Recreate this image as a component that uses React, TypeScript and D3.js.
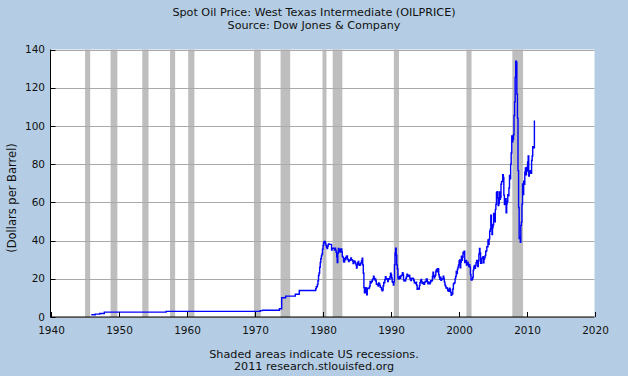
import React from "react";
import * as d3 from "d3";

const W = 628;
const H = 376;

const titleText = "Spot Oil Price: West Texas Intermediate (OILPRICE)";
const subtitleText = "Source: Dow Jones & Company";
const footer1 = "Shaded areas indicate US recessions.";
const footer2 = "2011 research.stlouisfed.org";
const yAxisTitle = "(Dollars per Barrel)";

const yTicks = [0, 20, 40, 60, 80, 100, 120, 140];
const xTickYears = [1940, 1950, 1960, 1970, 1980, 1990, 2000, 2010, 2020];

// NBER recessions (peak month, trough month)
const recessionStarts = ["1945-02", "1948-11", "1953-07", "1957-08", "1960-04", "1969-12", "1973-11", "1980-01", "1981-07", "1990-07", "2001-03", "2007-12"];
const recessionEnds = ["1945-10", "1949-10", "1954-05", "1958-04", "1961-02", "1970-11", "1975-03", "1980-07", "1982-11", "1991-03", "2001-11", "2009-06"];

// Early posted prices: change points (month, price)
const stepDates = ["1946-01", "1946-08", "1947-04", "1947-12", "1957-01", "1970-11", "1971-03", "1973-09", "1974-01", "1974-08", "1976-01", "1976-08"];
const stepPrices = [1.17, 1.52, 1.82, 2.57, 2.97, 3.35, 3.56, 4.31, 10.11, 10.9, 11.9, 13.9];

// Monthly prices from 1979-01 to 2011-03
const monthlyStart = "1979-01";
const prices1979 = [14.85, 15.85, 15.85, 17.0, 19.0, 21.75, 23.0, 26.0, 28.5, 30.5, 32.0, 33.0];
const prices1980 = [35.5, 37.5, 39.0, 39.5, 39.5, 38.5, 37.5, 36.5, 35.8, 37.0, 38.0, 38.2];
const prices1981 = [38.0, 38.0, 38.0, 38.0, 35.0, 36.0, 36.0, 36.0, 36.0, 35.0, 36.0, 35.0];
const prices1982 = [33.85, 31.56, 28.48, 33.45, 35.93, 35.07, 34.16, 33.95, 35.63, 35.68, 34.15, 31.72];
const prices1983 = [31.18, 29.05, 28.82, 30.61, 30.0, 31.0, 31.66, 31.9, 30.32, 29.9, 29.0, 29.55];
const prices1984 = [29.7, 30.05, 30.85, 30.02, 29.8, 29.35, 28.0, 29.3, 29.3, 28.75, 28.2, 27.27];
const prices1985 = [25.63, 27.3, 28.24, 29.13, 27.59, 27.05, 27.22, 27.9, 28.52, 29.44, 30.78, 27.3];
const prices1986 = [22.93, 15.45, 12.62, 12.84, 15.38, 13.43, 11.59, 15.1, 14.87, 14.9, 15.22, 16.11];
const prices1987 = [18.65, 17.75, 18.3, 18.68, 19.44, 20.07, 21.34, 20.31, 19.53, 19.86, 18.85, 17.28];
const prices1988 = [17.13, 16.8, 16.2, 17.86, 17.42, 16.53, 15.5, 15.52, 14.54, 13.77, 14.14, 16.38];
const prices1989 = [18.02, 17.94, 19.48, 21.07, 20.12, 20.05, 19.78, 18.58, 19.59, 20.1, 19.86, 21.1];
const prices1990 = [22.86, 22.11, 20.39, 18.43, 18.2, 16.7, 18.45, 27.31, 33.51, 36.04, 32.33, 27.28];
const prices1991 = [25.23, 20.48, 19.9, 20.83, 21.23, 20.19, 21.4, 21.69, 21.89, 23.23, 22.46, 19.5];
const prices1992 = [18.79, 19.01, 18.92, 20.23, 20.98, 22.39, 21.78, 21.34, 21.88, 21.69, 20.34, 19.41];
const prices1993 = [19.03, 20.09, 20.32, 20.25, 19.95, 19.09, 17.89, 18.01, 17.5, 18.15, 16.61, 14.52];
const prices1994 = [15.03, 14.78, 14.68, 16.42, 17.89, 19.06, 19.66, 18.38, 17.45, 17.72, 18.07, 17.16];
const prices1995 = [18.04, 18.57, 18.54, 19.9, 19.74, 18.45, 17.33, 18.02, 18.23, 17.43, 17.99, 19.03];
const prices1996 = [18.85, 19.09, 21.33, 23.5, 21.17, 20.42, 21.3, 21.9, 23.97, 24.88, 23.71, 25.23];
const prices1997 = [25.13, 22.18, 20.97, 19.7, 20.82, 19.26, 19.66, 19.95, 19.8, 21.33, 20.19, 18.33];
const prices1998 = [16.72, 16.06, 15.12, 15.35, 14.91, 13.72, 14.17, 13.47, 15.03, 14.46, 13.0, 11.35];
const prices1999 = [12.52, 12.01, 14.68, 17.31, 17.72, 17.92, 20.1, 21.28, 23.8, 22.69, 25.0, 26.1];
const prices2000 = [27.26, 29.37, 29.84, 25.72, 28.79, 31.82, 29.7, 31.26, 33.88, 33.11, 34.42, 28.44];
const prices2001 = [29.59, 29.61, 27.25, 27.49, 28.63, 27.6, 26.43, 27.37, 26.2, 22.17, 19.64, 19.39];
const prices2002 = [19.72, 20.72, 24.53, 26.18, 27.04, 25.52, 26.97, 28.39, 29.66, 28.84, 26.35, 29.46];
const prices2003 = [32.95, 35.83, 33.51, 28.17, 28.11, 30.66, 30.76, 31.57, 28.31, 30.34, 31.11, 32.13];
const prices2004 = [34.31, 34.69, 36.74, 36.75, 40.28, 38.03, 40.78, 44.9, 45.94, 53.28, 48.47, 43.15];
const prices2005 = [46.84, 48.15, 54.19, 52.98, 49.83, 56.35, 59.0, 64.99, 65.59, 62.26, 58.32, 59.41];
const prices2006 = [65.49, 61.63, 62.69, 69.44, 70.84, 70.95, 74.41, 73.04, 63.8, 58.89, 59.08, 61.96];
const prices2007 = [54.51, 59.28, 60.44, 63.98, 63.45, 67.49, 74.12, 72.36, 79.92, 85.8, 94.77, 91.69];
const prices2008 = [92.97, 95.39, 105.45, 112.58, 125.4, 133.88, 133.37, 116.67, 104.11, 76.61, 57.31, 41.12];
const prices2009 = [41.71, 39.09, 47.94, 49.65, 59.03, 69.64, 64.15, 71.05, 69.41, 75.72, 77.99, 74.47];
const prices2010 = [78.33, 76.39, 81.2, 84.29, 73.74, 75.34, 76.32, 76.6, 75.24, 81.89, 84.25, 89.15];
const prices2011 = [89.17, 88.58, 102.86];

const monthlyPrices = [
  ...prices1979, ...prices1980, ...prices1981, ...prices1982, ...prices1983, ...prices1984,
  ...prices1985, ...prices1986, ...prices1987, ...prices1988, ...prices1989, ...prices1990,
  ...prices1991, ...prices1992, ...prices1993, ...prices1994, ...prices1995, ...prices1996,
  ...prices1997, ...prices1998, ...prices1999, ...prices2000, ...prices2001, ...prices2002,
  ...prices2003, ...prices2004, ...prices2005, ...prices2006, ...prices2007, ...prices2008,
  ...prices2009, ...prices2010, ...prices2011,
];

const parseMonth = d3.timeParse("%Y-%m");

export default function App() {
  const left = 50.5;
  const right = 594.5;
  const top = 49.5;
  const bottom = 317;

  const x = d3
    .scaleTime()
    .domain([new Date(1940, 0, 1), new Date(2020, 0, 1)])
    .range([left, right]);
  const y = d3.scaleLinear().domain([0, 140]).range([bottom, top]);

  const startDate = parseMonth(monthlyStart) as Date;
  const points: { date: Date; value: number }[] = [];
  stepDates.forEach((d, i) => points.push({ date: parseMonth(d) as Date, value: stepPrices[i] }));
  monthlyPrices.forEach((v, i) => points.push({ date: d3.timeMonth.offset(startDate, i), value: v }));

  const line = d3
    .line<{ date: Date; value: number }>()
    .x((d) => x(d.date))
    .y((d) => y(d.value))
    .curve(d3.curveStepAfter);

  const font = "'DejaVu Sans', Verdana, sans-serif";
  const textColor = "#111";

  return (
    <svg
      width={W}
      height={H}
      style={{ position: "absolute", left: 0, top: 0, display: "block" }}
      fontFamily={font}
    >
      <rect x={0} y={0} width={W} height={H} fill="#B4CDE4" />
      <rect x={left} y={top} width={right - left} height={bottom - top} fill="#FFFFFF" />

      {recessionStarts.map((s, i) => {
        const x0 = x(parseMonth(s) as Date);
        const x1 = x(d3.timeMonth.offset(parseMonth(recessionEnds[i]) as Date, 1));
        return (
          <rect key={s} x={x0} y={top} width={x1 - x0} height={bottom - top} fill="#BEBEBE" />
        );
      })}

      {yTicks.map((t) => (
        <line
          key={"g" + t}
          x1={left}
          x2={right}
          y1={Math.round(y(t)) + 0.5}
          y2={Math.round(y(t)) + 0.5}
          stroke="#AAAAAA"
          strokeWidth={1}
        />
      ))}

      <path d={line(points) || ""} fill="none" stroke="#0000FF" strokeWidth={1.4} />

      {/* axes */}
      <line x1={left} x2={left} y1={top} y2={bottom} stroke="#000" strokeWidth={1} />
      <line x1={left} x2={right} y1={bottom} y2={bottom} stroke="#000" strokeWidth={1} />

      {yTicks.map((t) => (
        <g key={"yt" + t}>
          <line
            x1={left}
            x2={left + 5}
            y1={Math.round(y(t)) + 0.5}
            y2={Math.round(y(t)) + 0.5}
            stroke="#000"
          />
          <text x={45} y={y(t)} dy="0.35em" textAnchor="end" fontSize={10.5} fill={textColor}>
            {t}
          </text>
        </g>
      ))}

      {xTickYears.map((yr) => {
        const xx = Math.round(x(new Date(yr, 0, 1))) + 0.5;
        return (
          <g key={"xt" + yr}>
            <line x1={xx} x2={xx} y1={bottom} y2={bottom - 5} stroke="#000" />
            <text x={xx} y={334} textAnchor="middle" fontSize={10.5} fill={textColor}>
              {yr}
            </text>
          </g>
        );
      })}

      <text
        transform={`translate(16,198) rotate(-90)`}
        textAnchor="middle"
        fontSize={11.5}
        fill={textColor}
      >
        {yAxisTitle}
      </text>

      <text x={314} y={16} textAnchor="middle" fontSize={11.2} fill={textColor}>
        {titleText}
      </text>
      <text x={314} y={28.5} textAnchor="middle" fontSize={11.2} fill={textColor}>
        {subtitleText}
      </text>

      <text x={314} y={358} textAnchor="middle" fontSize={11.2} fill={textColor}>
        {footer1}
      </text>
      <text x={314} y={369.5} textAnchor="middle" fontSize={11.2} fill={textColor}>
        {footer2}
      </text>
    </svg>
  );
}
